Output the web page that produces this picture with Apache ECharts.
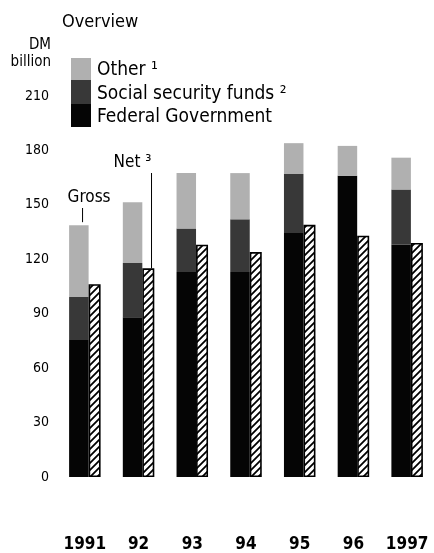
<!DOCTYPE html>
<html>
<head>
<meta charset="utf-8">
<script src="https://cdn.jsdelivr.net/npm/echarts@6/dist/echarts.min.js"></script>
<style>
html,body{margin:0;padding:0;background:#fff;}
#c{width:434px;height:553px;}
</style>
</head>
<body>
<div id="c"></div>
<script>
// ---- data (DM billion) ----
const years = ['1991', '92', '93', '94', '95', '96', '1997'];
const federalGov = [75.5, 88, 113, 113, 134.5, 166, 128];
const socialSecurity = [23.7, 30, 24, 29, 32.5, 0, 30.5];
const other = [39.6, 33.5, 30.5, 25.5, 17, 16.5, 17.5];
const net = [106.3, 115, 128, 124, 139, 133, 129];
const yTicks = [0, 30, 60, 90, 120, 150, 180, 210];

// ---- style ----
const FONT = '"DejaVu Sans Condensed", "DejaVu Sans", sans-serif';
const cFederal = '#050505';
const cSocial = '#383838';
const cOther = '#b0b0b0';

function hatchCanvas() {
  const s = 7;
  const c = document.createElement('canvas');
  c.width = s; c.height = s;
  const g = c.getContext('2d');
  g.fillStyle = '#fff';
  g.fillRect(0, 0, s, s);
  g.strokeStyle = '#000';
  g.lineWidth = 1.8;
  g.beginPath();
  for (let k = -1; k <= 1; k++) {
    g.moveTo(k * s - 1, s + 1);
    g.lineTo(k * s + s + 1, -1);
  }
  g.stroke();
  return c;
}

const chart = echarts.init(document.getElementById('c'), null, { renderer: 'canvas' });

const GROSS_W = 19.5, NET_W = 12;

chart.setOption({
  animation: false,
  backgroundColor: '#fff',
  grid: { left: 58, top: 96, width: 380.6, height: 381, containLabel: false },
  xAxis: {
    type: 'category',
    data: years,
    axisLine: { show: false },
    axisTick: { show: false },
    axisLabel: { color: '#000', fontFamily: FONT, fontSize: 17, fontWeight: 'bold', margin: 59, interval: 0 },
    splitLine: { show: false }
  },
  yAxis: {
    type: 'value',
    min: yTicks[0],
    max: yTicks[yTicks.length - 1],
    interval: yTicks[1] - yTicks[0],
    axisLine: { show: false },
    axisTick: { show: false },
    splitLine: { show: false },
    axisLabel: { color: '#000', fontFamily: FONT, fontSize: 14, margin: 9 }
  },
  series: [
    { name: 'Federal Government', type: 'bar', stack: 'gross', data: federalGov,
      barWidth: GROSS_W, barGap: '0%', itemStyle: { color: cFederal } },
    { name: 'Social security funds', type: 'bar', stack: 'gross', data: socialSecurity,
      itemStyle: { color: cSocial } },
    { name: 'Other', type: 'bar', stack: 'gross', data: other,
      itemStyle: { color: cOther } },
    { name: 'Net', type: 'bar', stack: 'net', data: net, barWidth: NET_W, barGap: '0%',
      itemStyle: { color: { image: hatchCanvas(), repeat: 'repeat' }, borderColor: '#000', borderWidth: 1.6 } }
  ]
});

// ---- annotations and legend ----
const cx0 = chart.convertToPixel({ xAxisIndex: 0 }, 0);
const cx1 = chart.convertToPixel({ xAxisIndex: 0 }, 1);
const grossTop0 = chart.convertToPixel({ yAxisIndex: 0 }, federalGov[0] + socialSecurity[0] + other[0]);
const netTop1 = chart.convertToPixel({ yAxisIndex: 0 }, net[1]);
const total = GROSS_W + NET_W + 1.6;
const grossCenter0 = cx0 - total / 2 + GROSS_W / 2;
const netRight1 = cx1 - total / 2 + GROSS_W + NET_W;

const txt = (x, y, s, size, align) => ({
  type: 'text', x, y,
  style: { text: s, fill: '#000', font: size + 'px ' + FONT, textAlign: align || 'left', textVerticalAlign: 'middle' }
});

chart.setOption({
  graphic: [
    txt(62, 22, 'Overview', 18),
    txt(51, 45, 'DM', 15, 'right'),
    txt(51, 62, 'billion', 15, 'right'),
    // legend swatch
    { type: 'rect', shape: { x: 71, y: 58, width: 20, height: 22 }, style: { fill: cOther } },
    { type: 'rect', shape: { x: 71, y: 80, width: 20, height: 24 }, style: { fill: cSocial } },
    { type: 'rect', shape: { x: 71, y: 104, width: 20, height: 23 }, style: { fill: cFederal } },
    txt(97, 70, 'Other ¹', 19),
    txt(97, 94, 'Social security funds ²', 19),
    txt(97, 117, 'Federal Government', 19),
    // Gross annotation
    txt(grossCenter0 + 11, 198, 'Gross', 17, 'center'),
    { type: 'line', shape: { x1: grossCenter0 + 4.5, y1: 208, x2: grossCenter0 + 4.5, y2: grossTop0 - 3 },
      style: { stroke: '#000', lineWidth: 1 } },
    // Net annotation
    txt(netRight1 - 21, 163, 'Net ³', 17, 'center'),
    { type: 'line', shape: { x1: netRight1 - 2, y1: 173, x2: netRight1 - 2, y2: netTop1 },
      style: { stroke: '#000', lineWidth: 1 } }
  ]
});
</script>
</body>
</html>
